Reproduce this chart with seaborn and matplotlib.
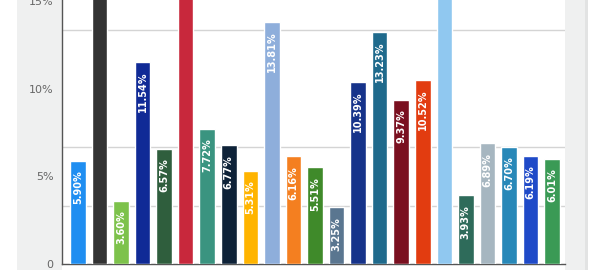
import matplotlib
matplotlib.use("Agg")
import matplotlib.pyplot as plt
import seaborn as sns
import pandas as pd
from matplotlib.patches import Rectangle

sns.set_theme(style="white")
plt.rcParams['font.family'] = ['DejaVu Sans']

categories = ["C01", "C02", "C03", "C04", "C05", "C06", "C07", "C08", "C09", "C10",
              "C11", "C12", "C13", "C14", "C15", "C16", "C17", "C18", "C19", "C20",
              "C21", "C22", "C23"]
values = [5.90, 17.50, 3.60, 11.54, 6.57, 15.23, 7.72, 6.77, 5.31, 13.81,
          6.16, 5.51, 3.25, 10.39, 13.23, 9.37, 10.52, 19.00, 3.93, 6.89,
          6.70, 6.19, 6.01]
colors = ["#1f8ef1", "#333333", "#7dc24b", "#102a96", "#2f5e3d", "#c8283c",
          "#3a9480", "#0e2238", "#ffb400", "#8eaedb", "#f47f20", "#3f8a2a",
          "#5a7690", "#16338a", "#1f6a8c", "#7a1020", "#e23c10", "#90c8f0",
          "#2e6b5a", "#a6b6c0", "#2888b8", "#1f4ac8", "#3a9a55"]
ytick_values = [0, 5, 10, 15]
ytick_labels = ["0", "5%", "10%", "15%"]

df = pd.DataFrame({"cat": categories, "val": values})

W, H = 604, 270
fig = plt.figure(figsize=(W / 100, H / 100), dpi=100)
fig.patch.set_facecolor("white")

# side panels
for x0, x1, col in [(17, 62, "#eff0f0"), (565, 585, "#eff0f0"), (585, 588, "#e2e3e3")]:
    fig.patches.append(Rectangle((x0 / W, 0), (x1 - x0) / W, 1, transform=fig.transFigure,
                                 facecolor=col, edgecolor="none", zorder=-10))

ax = fig.add_axes([62 / W, 6 / H, (565 - 62) / W, 264 / H])
ax.set_zorder(1)
ax.set_facecolor("white")

sns.barplot(data=df, x="cat", y="val", hue="cat", palette=colors, legend=False,
            width=0.72, saturation=1, ax=ax, zorder=3)

ax.set_xlim(-0.74, 22.6)
ax.set_ylim(0, 15.07)

ax.set_yticks(ytick_values)
ax.set_yticklabels(ytick_labels)
for lbl in ax.get_yticklabels():
    lbl.set_color("#666666")
    lbl.set_fontsize(8)
ax.set_yticks([10 / 3, 20 / 3, 10, 40 / 3], minor=True)
ax.yaxis.grid(True, which="minor", color="#d4d4d4", linewidth=1, zorder=0)
ax.yaxis.grid(False, which="major")
ax.tick_params(axis="y", which="both", length=0, pad=6)

ax.set_xticks(range(len(categories)))
ax.set_xticklabels([""] * len(categories))
ax.tick_params(axis="x", length=0)

ax.set_xlabel("")
ax.set_ylabel("")
for s in ["top", "right"]:
    ax.spines[s].set_visible(False)
for s in ["left", "bottom"]:
    ax.spines[s].set_color("#555555")
    ax.spines[s].set_linewidth(1)

for i, v in enumerate(values):
    ax.annotate(f"{v:.2f}%", xy=(i, v), xytext=(0, -7), textcoords="offset points",
                rotation=90, ha="center", va="top", color="white",
                fontsize=7, fontweight="bold", zorder=5, annotation_clip=True)

fig.savefig("out.png", dpi=100, facecolor="white")
